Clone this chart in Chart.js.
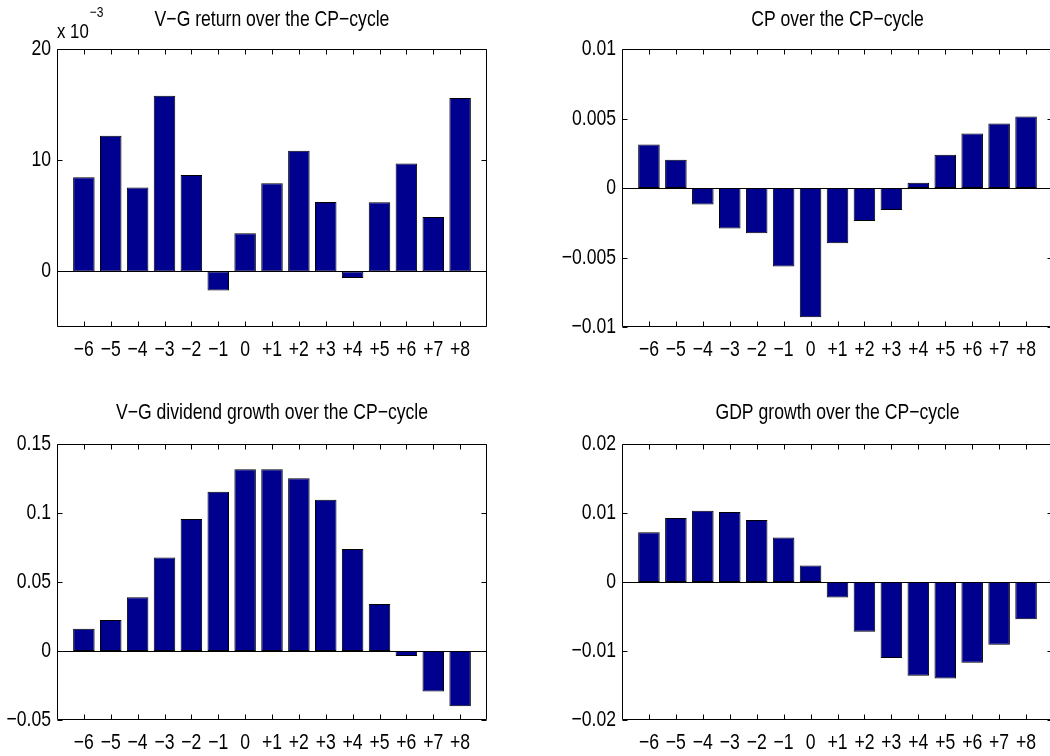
<!DOCTYPE html>
<html>
<head>
<meta charset="utf-8">
<script src="https://cdn.jsdelivr.net/npm/chart.js@4/dist/chart.umd.min.js"></script>
<style>
  html, body { margin: 0; padding: 0; background: #fff; overflow: hidden; width: 1050px; height: 756px; }
  .panel { position: absolute; }
</style>
</head>
<body>
<div class="panel" style="left:0;top:0;width:525px;height:378px"><canvas id="c-return"></canvas></div>
<div class="panel" style="left:525px;top:0;width:535px;height:378px"><canvas id="c-cp"></canvas></div>
<div class="panel" style="left:0;top:378px;width:525px;height:378px"><canvas id="c-div"></canvas></div>
<div class="panel" style="left:525px;top:378px;width:535px;height:378px"><canvas id="c-gdp"></canvas></div>
<script>
// quarters around the CP-cycle
const periods = [-6, -5, -4, -3, -2, -1, 0, 1, 2, 3, 4, 5, 6, 7, 8];
const periodLabels = ["−6", "−5", "−4", "−3", "−2", "−1", "0", "+1", "+2", "+3", "+4", "+5", "+6", "+7", "+8"];

const vgReturn = [0.00847, 0.0122, 0.00754, 0.0158, 0.00868, -0.00171, 0.00342, 0.00793, 0.01084, 0.00625, -0.0006, 0.00622, 0.0097, 0.0049, 0.0156];
const cpLevel = [0.00313, 0.00204, -0.00118, -0.00291, -0.00325, -0.00565, -0.0093, -0.00397, -0.00238, -0.00159, 0.00038, 0.0024, 0.00392, 0.00464, 0.00514];
const vgDivGrowth = [0.0161, 0.0224, 0.0389, 0.0678, 0.0957, 0.1154, 0.1317, 0.1317, 0.1252, 0.1096, 0.074, 0.0341, -0.0036, -0.0293, -0.0401];
const gdpGrowth = [0.00721, 0.00928, 0.01034, 0.01014, 0.00899, 0.00644, 0.0024, -0.00226, -0.00721, -0.011, -0.0136, -0.014, -0.0117, -0.0091, -0.0054];

const returnTicks = [0, 0.01, 0.02];
const returnTickLabels = ["0", "10", "20"];
const cpTicks = [-0.01, -0.005, 0, 0.005, 0.01];
const cpTickLabels = ["−0.01", "−0.005", "0", "0.005", "0.01"];
const divTicks = [-0.05, 0, 0.05, 0.1, 0.15];
const divTickLabels = ["−0.05", "0", "0.05", "0.1", "0.15"];
const gdpTicks = [-0.02, -0.01, 0, 0.01, 0.02];
const gdpTickLabels = ["−0.02", "−0.01", "0", "0.01", "0.02"];

const FONT = "'Liberation Sans', Arial, sans-serif";
const SQUEEZE = 0.8;   // no narrow face installed, squeeze the regular one
const FONT_SIZE = 22;
const BAR_COLOR = "#00008f";
const TICK_LEN = 5;

Chart.defaults.font.family = FONT;
Chart.defaults.color = "#000";
Chart.defaults.animation = false;

// draw all text on this context horizontally condensed around its anchor
function narrowText(ctx) {
    const fill = ctx.fillText.bind(ctx);
    ctx.fillText = (text, x, y) => {
        ctx.save();
        ctx.translate(x, y);
        ctx.scale(SQUEEZE, 1);
        fill(text, 0, 0);
        ctx.restore();
    };
    return ctx;
}

// matlab style box: frame, inward ticks on all four sides, zero baseline
const matlabFrame = {
    id: "matlabFrame",
    afterDatasetsDraw(chart, args, opts) {
        const { ctx, chartArea: a, scales: { x, y } } = chart;
        const L = Math.round(a.left) + 0.5, R = Math.round(a.right) - 0.5;
        const T = Math.round(a.top) + 0.5, B = Math.round(a.bottom) - 0.5;
        ctx.save();
        ctx.strokeStyle = "#000";
        ctx.lineWidth = 1;
        ctx.beginPath();
        const y0 = Math.round(y.getPixelForValue(0)) + 0.5;
        ctx.moveTo(L, y0); ctx.lineTo(R, y0);
        ctx.rect(L, T, R - L, B - T);
        x.ticks.forEach(t => {
            const px = Math.round(x.getPixelForValue(t.value)) + 0.5;
            ctx.moveTo(px, B); ctx.lineTo(px, B - TICK_LEN);
            ctx.moveTo(px, T); ctx.lineTo(px, T + TICK_LEN);
        });
        y.ticks.forEach(t => {
            const py = Math.round(y.getPixelForValue(t.value)) + 0.5;
            ctx.moveTo(L, py); ctx.lineTo(L + TICK_LEN, py);
            ctx.moveTo(R, py); ctx.lineTo(R - TICK_LEN, py);
        });
        ctx.stroke();
        if (opts.exponent) {
            ctx.fillStyle = "#000";
            ctx.textAlign = "left";
            ctx.textBaseline = "alphabetic";
            ctx.font = "21px " + FONT;
            ctx.fillText("x 10", a.left, a.top - 11);
            const w = ctx.measureText("x 10").width * SQUEEZE;
            ctx.font = "15px " + FONT;
            ctx.fillText(opts.exponent, a.left + w + 1, a.top - 32);
        }
        ctx.restore();
    }
};

function makePanel(id, { title, values, yMin, yMax, yTicks, yTickLabels, box, exponent }) {
    const canvas = document.getElementById(id);
    const h = canvas.parentNode.clientHeight;
    narrowText(canvas.getContext("2d"));
    return new Chart(canvas, {
        type: "bar",
        data: {
            datasets: [{
                data: periods.map((p, i) => ({ x: p, y: values[i] })),
                backgroundColor: BAR_COLOR,
                borderColor: "#000",
                borderWidth: 1,
                borderSkipped: false,
                barPercentage: 0.8,
                categoryPercentage: 1
            }]
        },
        options: {
            responsive: true,
            maintainAspectRatio: false,
            devicePixelRatio: 1,
            layout: { padding: { left: 0, right: box.right, top: 0, bottom: 0 } },
            plugins: {
                legend: { display: false },
                tooltip: { enabled: false },
                title: {
                    display: true,
                    text: title,
                    fullSize: false,
                    color: "#000",
                    font: { size: FONT_SIZE, weight: "normal", lineHeight: 1 },
                    padding: { top: box.titleTop, bottom: box.top - box.titleTop - FONT_SIZE }
                },
                matlabFrame: { exponent }
            },
            scales: {
                x: {
                    type: "linear",
                    min: -7,
                    max: 9,
                    offset: false,
                    grid: { display: false, drawTicks: false },
                    border: { display: false },
                    afterBuildTicks: s => { s.ticks = periods.map(v => ({ value: v })); },
                    afterFit: s => { s.height = h - box.bottom; },
                    ticks: {
                        autoSkip: false, maxRotation: 0, minRotation: 0,
                        padding: 10,
                        font: { size: FONT_SIZE },
                        callback: (v, i) => periodLabels[i]
                    }
                },
                y: {
                    min: yMin,
                    max: yMax,
                    grid: { display: false, drawTicks: false },
                    border: { display: false },
                    afterBuildTicks: s => { s.ticks = yTicks.map(v => ({ value: v })); },
                    afterFit: s => { s.width = box.left; },
                    ticks: {
                        autoSkip: false,
                        padding: 6,
                        font: { size: FONT_SIZE },
                        callback: (v, i) => yTickLabels[i]
                    }
                }
            }
        },
        plugins: [matlabFrame]
    });
}

makePanel("c-return", {
    title: "V−G return over the CP−cycle",
    values: vgReturn, yMin: -0.005, yMax: 0.02,
    yTicks: returnTicks, yTickLabels: returnTickLabels,
    exponent: "−3",
    box: { left: 57, right: 38, top: 49, bottom: 327, titleTop: 9 }
});
makePanel("c-cp", {
    title: "CP over the CP−cycle",
    values: cpLevel, yMin: -0.01, yMax: 0.01,
    yTicks: cpTicks, yTickLabels: cpTickLabels,
    box: { left: 97, right: 7, top: 49, bottom: 327, titleTop: 9 }
});
makePanel("c-div", {
    title: "V−G dividend growth over the CP−cycle",
    values: vgDivGrowth, yMin: -0.05, yMax: 0.15,
    yTicks: divTicks, yTickLabels: divTickLabels,
    box: { left: 57, right: 38, top: 66, bottom: 342, titleTop: 24 }
});
makePanel("c-gdp", {
    title: "GDP growth over the CP−cycle",
    values: gdpGrowth, yMin: -0.02, yMax: 0.02,
    yTicks: gdpTicks, yTickLabels: gdpTickLabels,
    box: { left: 97, right: 7, top: 66, bottom: 342, titleTop: 24 }
});
</script>
</body>
</html>
